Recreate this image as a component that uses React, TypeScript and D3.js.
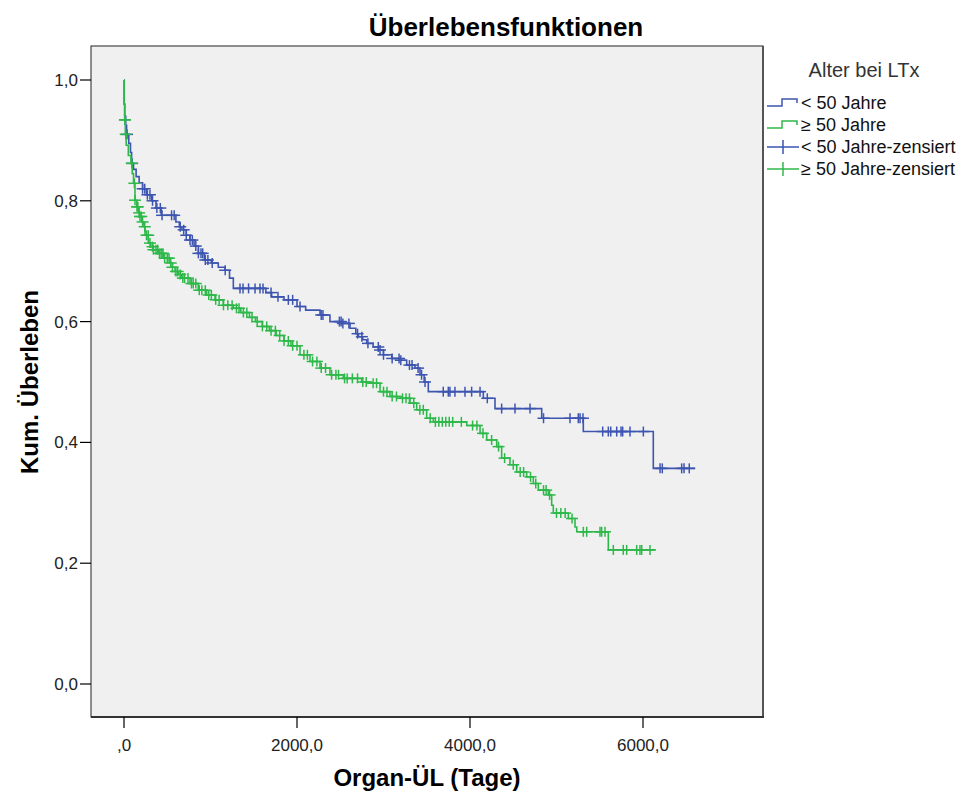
import React from "react";
import * as d3 from "d3";

// ---- Data ----
const seriesNames = ["< 50 Jahre", "≥ 50 Jahre"];
const censorNames = ["< 50 Jahre-zensiert", "≥ 50 Jahre-zensiert"];

// Kaplan-Meier steps: [day, survival after step]
const youngSteps: [number, number][] = [
  [0, 1.0], [2, 0.96], [8, 0.94], [20, 0.925], [30, 0.91], [55, 0.895], [75, 0.88],
  [88, 0.862], [110, 0.852], [140, 0.84], [175, 0.83], [215, 0.82], [260, 0.81],
  [320, 0.8], [370, 0.788], [430, 0.776], [600, 0.765], [640, 0.757], [670, 0.752],
  [720, 0.743], [763, 0.735], [810, 0.725], [860, 0.713], [930, 0.702], [1010, 0.697],
  [1090, 0.69], [1168, 0.685], [1220, 0.672], [1264, 0.655], [1640, 0.648],
  [1707, 0.641], [1850, 0.636], [2000, 0.625], [2100, 0.619], [2266, 0.611],
  [2381, 0.6], [2516, 0.597], [2613, 0.589], [2680, 0.58], [2710, 0.575],
  [2760, 0.57], [2806, 0.564], [2880, 0.558], [2941, 0.553], [2999, 0.545],
  [3095, 0.539], [3191, 0.536], [3268, 0.528], [3364, 0.523], [3422, 0.512],
  [3470, 0.5], [3518, 0.484], [4154, 0.473], [4289, 0.456], [4829, 0.44],
  [5310, 0.418], [6119, 0.357],
];
const youngEnd = 6600;
const youngCensored = [
  35, 95, 215, 240, 270, 300, 330, 380, 420, 440, 550, 580, 650, 690, 720, 763, 790,
  830, 860, 890, 910, 940, 970, 1020, 1170, 1341, 1376, 1440, 1515, 1572, 1607, 1700,
  1780, 1900, 1950, 2035, 2280, 2300, 2490, 2510, 2530, 2600, 2700, 2750, 2820, 2940,
  2960, 3000, 3100, 3180, 3200, 3300, 3330, 3400, 3440, 3480, 3691, 3749, 3768, 3826,
  3942, 4019, 4116, 4200, 4366, 4520, 4694, 4850, 5156, 5252, 5272, 5306, 5534, 5599,
  5627, 5696, 5746, 5765, 5850, 6004, 6197, 6223, 6447, 6474, 6535,
];

const oldSteps: [number, number][] = [
  [0, 1.0], [3, 0.96], [8, 0.934], [15, 0.91], [25, 0.892], [50, 0.875], [80, 0.862],
  [95, 0.845], [110, 0.829], [127, 0.801], [147, 0.79], [170, 0.78], [185, 0.774],
  [210, 0.765], [230, 0.757], [243, 0.743], [281, 0.73], [310, 0.724], [339, 0.719],
  [397, 0.713], [454, 0.705], [532, 0.697], [560, 0.69], [590, 0.683], [630, 0.678],
  [667, 0.672], [763, 0.663], [859, 0.652], [956, 0.644], [1052, 0.636], [1148, 0.627],
  [1264, 0.622], [1350, 0.615], [1450, 0.607], [1520, 0.6], [1600, 0.592],
  [1680, 0.585], [1760, 0.577], [1850, 0.568], [1930, 0.56], [2035, 0.545],
  [2150, 0.534], [2266, 0.523], [2381, 0.512], [2535, 0.506], [2748, 0.5],
  [2844, 0.498], [2960, 0.484], [3075, 0.476], [3191, 0.473], [3306, 0.465],
  [3384, 0.454], [3499, 0.44], [3576, 0.434], [3962, 0.428], [4116, 0.415],
  [4193, 0.404], [4309, 0.393], [4366, 0.374], [4462, 0.363], [4540, 0.351],
  [4655, 0.343], [4732, 0.332], [4790, 0.321], [4905, 0.313], [4944, 0.296],
  [4963, 0.283], [5137, 0.274], [5214, 0.26], [5234, 0.252], [5599, 0.222],
];
const oldEnd = 6140;
const oldCensored = [
  10, 12, 20, 90, 120, 127, 150, 160, 175, 185, 200, 215, 240, 260, 280, 300, 330,
  340, 370, 390, 410, 430, 450, 470, 500, 520, 540, 560, 600, 620, 650, 680, 700, 740,
  780, 800, 830, 870, 900, 940, 980, 1010, 1060, 1100, 1150, 1200, 1250, 1300, 1330,
  1380, 1420, 1480, 1540, 1600, 1650, 1700, 1750, 1800, 1850, 1900, 1950, 2000, 2080,
  2120, 2180, 2230, 2280, 2330, 2400, 2450, 2480, 2550, 2580, 2640, 2700, 2760, 2800,
  2880, 2920, 3000, 3040, 3100, 3150, 3220, 3260, 3300, 3350, 3420, 3460, 3540, 3600,
  3640, 3680, 3720, 3760, 3800, 3900, 4030, 4080, 4150, 4250, 4330, 4400, 4500, 4580,
  4620, 4700, 4760, 4850, 4880, 4920, 5000, 5050, 5100, 5180, 5310, 5349, 5503, 5522,
  5561, 5657, 5772, 5811, 5927, 5965, 5985, 6081,
];

const xTicks = [0, 2000, 4000, 6000];
const xTickLabels = [",0", "2000,0", "4000,0", "6000,0"];
const yTicks = [0, 0.2, 0.4, 0.6, 0.8, 1.0];
const yTickLabels = ["0,0", "0,2", "0,4", "0,6", "0,8", "1,0"];

const BLUE = "#3d55b0";
const GREEN = "#2fb84a";
const FONT = "'Liberation Sans', Arial, sans-serif";

// ---- Layout ----
const W = 966, H = 796;
const box = { left: 91, top: 46, right: 763, bottom: 717 };

export default function App() {
  const x = d3.scaleLinear().domain([0, 6000]).range([124, 643]);
  const y = d3.scaleLinear().domain([0, 1]).range([684, 80]);

  const line = d3
    .line<[number, number]>()
    .x((d) => x(d[0]))
    .y((d) => y(d[1]))
    .curve(d3.curveStepAfter);

  const survAt = (steps: [number, number][], t: number) => {
    let s = steps[0][1];
    for (const [d, v] of steps) if (d <= t) s = v;
    return s;
  };

  const series = [
    { steps: youngSteps, end: youngEnd, cens: youngCensored, color: BLUE },
    { steps: oldSteps, end: oldEnd, cens: oldCensored, color: GREEN },
  ];

  const cross = (cx: number, cy: number, color: string, key: string, hw = 6, hh = 5) => (
    <g key={key} stroke={color} strokeWidth={1.5}>
      <line x1={cx - hw} x2={cx + hw} y1={cy} y2={cy} />
      <line x1={cx} x2={cx} y1={cy - hh} y2={cy + hh} />
    </g>
  );

  const legendRows = [103, 125, 147, 169];

  return (
    <div style={{ position: "absolute", left: 0, top: 0 }}>
      <svg width={W} height={H} style={{ display: "block", background: "#fff" }} fontFamily={FONT}>
        <text x={506} y={36} textAnchor="middle" fontSize={26} fontWeight="bold" fill="#000">
          Überlebensfunktionen
        </text>

        <rect
          x={box.left}
          y={box.top}
          width={box.right - box.left}
          height={box.bottom - box.top}
          fill="#f0f0f0"
          stroke="#222"
          strokeWidth={1}
        />
        <line x1={box.right} x2={box.right} y1={box.top} y2={box.bottom + 1} stroke="#555" strokeWidth={2} />
        <line x1={box.left} x2={box.right + 1} y1={box.bottom} y2={box.bottom} stroke="#333" strokeWidth={2} />

        {/* y axis ticks */}
        {yTicks.map((t, i) => (
          <g key={"yt" + i}>
            <line x1={80} x2={box.left} y1={y(t)} y2={y(t)} stroke="#000" strokeWidth={1.2} />
            <text x={78} y={y(t)} dy="0.35em" textAnchor="end" fontSize={17} fill="#222">
              {yTickLabels[i]}
            </text>
          </g>
        ))}
        {/* x axis ticks */}
        {xTicks.map((t, i) => (
          <g key={"xt" + i}>
            <line x1={x(t)} x2={x(t)} y1={box.bottom} y2={728} stroke="#000" strokeWidth={1.2} />
            <text x={x(t)} y={751} textAnchor="middle" fontSize={17} fill="#222">
              {xTickLabels[i]}
            </text>
          </g>
        ))}

        <text x={427} y={786} textAnchor="middle" fontSize={24} fontWeight="bold" fill="#000">
          Organ-ÜL (Tage)
        </text>
        <text
          transform={`translate(38,382) rotate(-90)`}
          textAnchor="middle"
          fontSize={24}
          fontWeight="bold"
          fill="#000"
        >
          Kum. Überleben
        </text>

        {/* curves */}
        {series.map((s, si) => {
          const pts: [number, number][] = [...s.steps, [s.end, s.steps[s.steps.length - 1][1]]];
          return (
            <g key={"s" + si}>
              <path d={line(pts) || ""} fill="none" stroke={s.color} strokeWidth={1.6} />
              {s.cens.map((c, ci) => cross(x(c), y(survAt(s.steps, c)), s.color, `c${si}-${ci}`))}
            </g>
          );
        })}

        {/* legend */}
        <text x={864} y={77} textAnchor="middle" fontSize={20} fill="#333">
          Alter bei LTx
        </text>
        {[BLUE, GREEN].map((c, i) => {
          const cy = legendRows[i];
          return (
            <g key={"lg" + i}>
              <path
                d={`M767,${cy + 3}H782V${cy - 4}H797V${cy}`}
                fill="none"
                stroke={c}
                strokeWidth={1.5}
              />
              <text x={801} y={cy} dy="0.35em" fontSize={18} fill="#111">
                {seriesNames[i]}
              </text>
            </g>
          );
        })}
        {[BLUE, GREEN].map((c, i) => {
          const cy = legendRows[i + 2];
          return (
            <g key={"lc" + i}>
              {cross(783, cy, c, "lcx" + i, 16, 7)}
              <text x={801} y={cy} dy="0.35em" fontSize={18} fill="#111">
                {censorNames[i]}
              </text>
            </g>
          );
        })}
      </svg>
    </div>
  );
}
